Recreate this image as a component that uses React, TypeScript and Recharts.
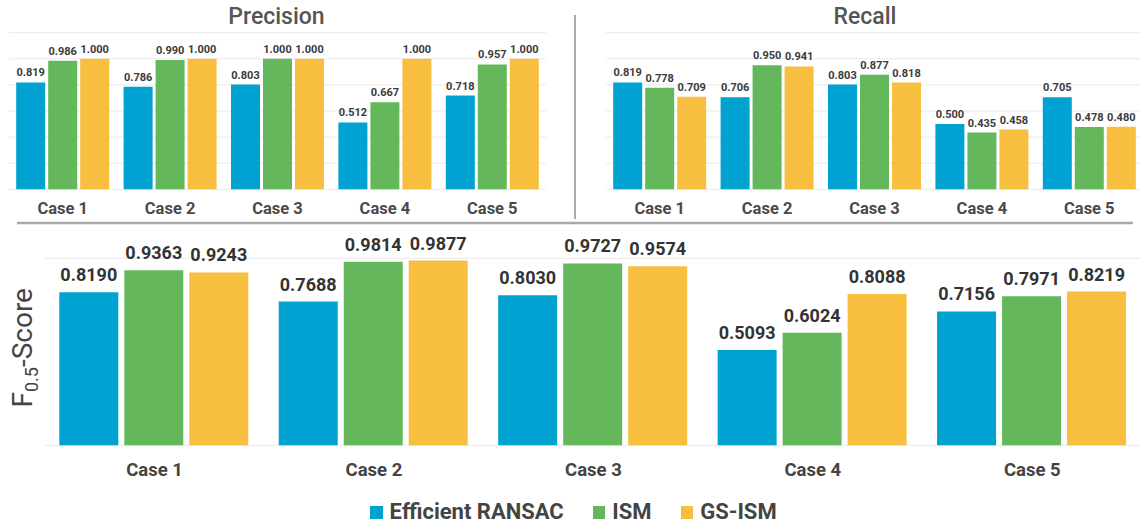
import React from 'react';
import { BarChart, Bar, XAxis, YAxis, CartesianGrid, LabelList } from 'recharts';

const categories = ['Case 1', 'Case 2', 'Case 3', 'Case 4', 'Case 5'];
const seriesNames = ['Efficient RANSAC', 'ISM', 'GS-ISM'];
const seriesColors = ['#00A2D2', '#64B85B', '#F8BE40'];

const precisionRansac = [0.819, 0.786, 0.803, 0.512, 0.718];
const precisionIsm = [0.986, 0.99, 1.0, 0.667, 0.957];
const precisionGsIsm = [1.0, 1.0, 1.0, 1.0, 1.0];

const recallRansac = [0.819, 0.706, 0.803, 0.5, 0.705];
const recallIsm = [0.778, 0.95, 0.877, 0.435, 0.478];
const recallGsIsm = [0.709, 0.941, 0.818, 0.458, 0.48];

const fRansac = [0.819, 0.7688, 0.803, 0.5093, 0.7156];
const fIsm = [0.9363, 0.9814, 0.9727, 0.6024, 0.7971];
const fGsIsm = [0.9243, 0.9877, 0.9574, 0.8088, 0.8219];

const topTicks = [0, 0.2, 0.4, 0.6, 0.8, 1.0, 1.2];
const bottomTicks = [0, 0.2, 0.4, 0.6, 0.8, 1.0];

const panelTitles = ['Precision', 'Recall'];

const FONT = 'Roboto, "Noto Sans", sans-serif';
const keys = ['s0', 's1', 's2'];

function buildRows(a: number[], b: number[], c: number[]) {
  return categories.map((name, i) => ({ name, s0: a[i], s1: b[i], s2: c[i] }));
}

const precisionRows = buildRows(precisionRansac, precisionIsm, precisionGsIsm);
const recallRows = buildRows(recallRansac, recallIsm, recallGsIsm);
const fRows = buildRows(fRansac, fIsm, fGsIsm);

function SmallPanel({ rows, width, margin }: { rows: any[]; width: number; margin: any }) {
  return (
    <BarChart width={width} height={230} data={rows} margin={margin} barCategoryGap={7.2} barGap={3}>
      <CartesianGrid vertical={false} stroke="#e9e9e9" strokeWidth={1} />
      <XAxis
        dataKey="name"
        axisLine={false}
        tickLine={false}
        tickSize={0}
        tickMargin={12.5}
        height={40.7}
        interval={0}
        tick={{ fontSize: 16.5, fontWeight: 700, fill: '#4a4a4a', fontFamily: FONT }}
      />
      <YAxis hide domain={[0, 1.2]} ticks={topTicks} />
      {keys.map((k, i) => (
        <Bar key={k} dataKey={k} fill={seriesColors[i]} isAnimationActive={false}>
          <LabelList
            dataKey={k}
            position="top"
            offset={6}
            formatter={(v: any) => Number(v).toFixed(3)}
            fontSize={11}
            fontWeight={700}
            fill="#3a3a3a"
            fontFamily={FONT}
          />
        </Bar>
      ))}
    </BarChart>
  );
}

function YLabel(props: any) {
  const vb = props.viewBox || { x: 0, y: 0, width: 0, height: 0 };
  const cx = vb.x + 32;
  const cy = vb.y + vb.height / 2 - 4;
  return (
    <text
      transform={`translate(${cx},${cy}) rotate(-90)`}
      textAnchor="middle"
      fontFamily={FONT}
      fontSize={28}
      fill="#444"
    >
      F
      <tspan fontSize={18} dy={6}>0.5</tspan>
      <tspan dy={-6}>-Score</tspan>
    </text>
  );
}

export default function App() {
  return (
    <div
      style={{
        position: 'fixed',
        left: 0,
        top: 0,
        width: 1140,
        height: 525,
        overflow: 'hidden',
        background: '#fff',
        fontFamily: FONT,
      }}
    >
      <div style={{ position: 'absolute', left: 0, top: 0 }}>
        <SmallPanel rows={precisionRows} width={560} margin={{ top: 32.7, right: 14, left: 9, bottom: 0 }} />
      </div>
      <div style={{ position: 'absolute', left: 560, top: 0 }}>
        <SmallPanel rows={recallRows} width={590} margin={{ top: 32.7, right: 7, left: 46, bottom: 0 }} />
      </div>
      <div style={{ position: 'absolute', left: 0, top: 225 }}>
        <BarChart
          width={1150}
          height={260}
          data={fRows}
          margin={{ top: 33.3, right: 8, left: 0, bottom: 0 }}
          barCategoryGap={14.5}
          barGap={6}
        >
          <CartesianGrid vertical={false} stroke="#e9e9e9" strokeWidth={1} />
          <XAxis
            dataKey="name"
            axisLine={false}
            tickLine={false}
            tickSize={0}
            tickMargin={18}
            height={39.7}
            interval={0}
            tick={{ fontSize: 18.5, fontWeight: 700, fill: '#444', fontFamily: FONT }}
          />
          <YAxis
            width={44.8}
            domain={[0, 1]}
            ticks={bottomTicks}
            tick={false}
            axisLine={false}
            tickLine={false}
            label={{ content: (p: any) => <YLabel {...p} /> }}
          />
          {keys.map((k, i) => (
            <Bar key={k} dataKey={k} fill={seriesColors[i]} isAnimationActive={false}>
              <LabelList
                dataKey={k}
                position="top"
                offset={11}
                formatter={(v: any) => Number(v).toFixed(4)}
                fontSize={18}
                fontWeight={700}
                fill="#333"
                fontFamily={FONT}
              />
            </Bar>
          ))}
        </BarChart>
      </div>
      <svg
        width={1140}
        height={525}
        style={{ position: 'absolute', left: 0, top: 0, pointerEvents: 'none' }}
      >
        <text x={276.5} y={24} textAnchor="middle" fontFamily={FONT} fontSize={23} fontWeight={500} fill="#555">
          {panelTitles[0]}
        </text>
        <text x={865} y={24} textAnchor="middle" fontFamily={FONT} fontSize={23} fontWeight={500} fill="#555">
          {panelTitles[1]}
        </text>
        <line x1={575} y1={15} x2={575} y2={219} stroke="#aaa" strokeWidth={2} />
        <line x1={17} y1={223} x2={1133} y2={223} stroke="#a8a8a8" strokeWidth={2.5} />
      </svg>
      <div
        style={{
          position: 'absolute',
          left: 370,
          top: 500,
          display: 'flex',
          alignItems: 'center',
          lineHeight: '23px',
          fontSize: 22,
          fontWeight: 700,
          color: '#444',
          whiteSpace: 'nowrap',
        }}
      >
        {seriesNames.map((n, i) => (
          <div key={n} style={{ display: 'flex', alignItems: 'center', marginRight: 29 }}>
            <div style={{ width: 12.6, height: 12.6, background: seriesColors[i], marginRight: 7, marginTop: 2 }} />
            <span>{n}</span>
          </div>
        ))}
      </div>
    </div>
  );
}
